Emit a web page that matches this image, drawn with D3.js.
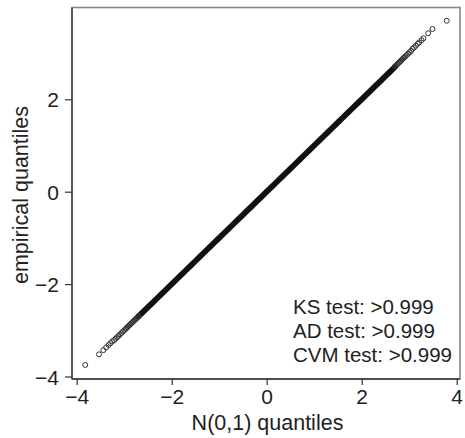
<!DOCTYPE html>
<html>
<head>
<meta charset="utf-8">
<script src="https://cdn.jsdelivr.net/npm/d3@7"></script>
<style>
  body { margin: 0; background: #fff; }
  text { font-family: "Liberation Sans", Arial, sans-serif; fill: #222; }
</style>
</head>
<body>
<div id="chart"></div>
<script>
// theoretical N(0,1) quantiles vs empirical quantiles (individually visible points)
var theoQ = [-3.82, -3.53, -3.44, -3.38, -3.33, -3.29, -3.25, -3.21, -3.18, -3.15, -3.12, -3.09,
  -3.06, -3.03, -3.00, -2.97, -2.95, -2.93, -2.91, -2.89, -2.87, -2.85, -2.83, -2.81, -2.79,
  -2.77, -2.75, -2.73, -2.71, -2.69,
  2.70, 2.72, 2.74, 2.76, 2.78, 2.80, 2.82, 2.84, 2.86, 2.88, 2.90, 2.92, 2.95, 2.98, 3.01,
  3.04, 3.07, 3.10, 3.14, 3.18, 3.21, 3.26, 3.30, 3.40, 3.49, 3.79];
var empQ = [-3.75, -3.52, -3.43, -3.37, -3.32, -3.28, -3.24, -3.21, -3.18, -3.15, -3.12, -3.09,
  -3.06, -3.03, -3.00, -2.97, -2.95, -2.93, -2.91, -2.89, -2.87, -2.85, -2.83, -2.81, -2.79,
  -2.77, -2.75, -2.73, -2.71, -2.69,
  2.71, 2.73, 2.75, 2.77, 2.79, 2.81, 2.83, 2.85, 2.87, 2.89, 2.91, 2.93, 2.96, 2.99, 3.02,
  3.05, 3.09, 3.12, 3.16, 3.20, 3.23, 3.28, 3.32, 3.43, 3.52, 3.70];
// dense middle where points merge into a solid band (empirical = theoretical)
var coreQ = [-2.7, -2.6, -2.5, -2.4, -2.3, -2.2, -2.1, -2.0, -1.9, -1.8, -1.7, -1.6, -1.5, -1.4,
  -1.3, -1.2, -1.1, -1.0, -0.9, -0.8, -0.7, -0.6, -0.5, -0.4, -0.3, -0.2, -0.1, 0.0, 0.1, 0.2,
  0.3, 0.4, 0.5, 0.6, 0.7, 0.8, 0.9, 1.0, 1.1, 1.2, 1.3, 1.4, 1.5, 1.6, 1.7, 1.8, 1.9, 2.0, 2.1,
  2.2, 2.3, 2.4, 2.5, 2.6, 2.7];
var xTicks = [-4, -2, 0, 2, 4];
var yTicks = [-4, -2, 0, 2];
var testLines = ["KS test: >0.999", "AD test: >0.999", "CVM test: >0.999"];

var svgWidth = 465;
var svgHeight = 438;
var box = { left: 72, right: 460, top: 7.5, bottom: 379 };

var svg = d3.select("#chart")
    .append("svg")
    .attr("width", svgWidth)
    .attr("height", svgHeight);

var x = d3.scaleLinear().domain([-4, 4]).range([76.7, 456.7]);
var y = d3.scaleLinear().domain([-4, 4]).range([376.5, 6.9]);

// frame
svg.append("rect")
    .attr("x", box.left)
    .attr("y", box.top)
    .attr("width", box.right - box.left)
    .attr("height", box.bottom - box.top)
    .attr("fill", "none")
    .attr("stroke", "#888")
    .attr("stroke-width", 1.6);

// axes
var xAxis = d3.axisBottom(x).tickValues(xTicks).tickSize(6).tickPadding(4)
    .tickFormat(d => d < 0 ? "\u2212" + Math.abs(d) : d);
var yAxis = d3.axisLeft(y).tickValues(yTicks).tickSize(7).tickPadding(6)
    .tickFormat(d => d < 0 ? "\u2212" + Math.abs(d) : d);

var gx = svg.append("g")
    .attr("transform", `translate(0, ${box.bottom})`)
    .call(xAxis);
gx.select(".domain").attr("d", `M${box.left},0H${box.right}`);

var gy = svg.append("g")
    .attr("transform", `translate(${box.left}, 0)`)
    .call(yAxis);
gy.select(".domain").attr("d", `M0,${box.top}V${box.bottom}`);

[gx, gy].forEach(function (g) {
    g.select(".domain").attr("stroke", "#333").attr("stroke-width", 1.3);
    g.selectAll(".tick line").attr("stroke", "#333").attr("stroke-width", 1.2);
    g.selectAll(".tick text")
        .attr("fill", "#222")
        .style("font-size", "21px")
        .style("font-family", "'Liberation Sans', Arial, sans-serif");
});
gx.selectAll(".tick text").attr("dy", "0.71em");
gy.selectAll(".tick text").attr("dy", "0.36em");

// dense band
var line = d3.line().x(d => x(d)).y(d => y(d));
svg.append("path")
    .datum(coreQ)
    .attr("d", line)
    .attr("fill", "none")
    .attr("stroke", "#111")
    .attr("stroke-width", 5.8)
    .attr("stroke-linecap", "round");

// individual points
svg.append("g").selectAll("circle")
    .data(theoQ)
    .enter()
    .append("circle")
    .attr("cx", d => x(d))
    .attr("cy", (d, i) => y(empQ[i]))
    .attr("r", 2.5)
    .attr("fill", "none")
    .attr("stroke", "#333")
    .attr("stroke-width", 1);

// test results
svg.append("g").selectAll("text")
    .data(testLines)
    .enter()
    .append("text")
    .attr("x", 293)
    .attr("y", (d, i) => 313.5 + i * 24)
    .style("font-size", "20.5px")
    .text(d => d);

// axis titles
svg.append("text")
    .attr("x", 267.5)
    .attr("y", 430)
    .attr("text-anchor", "middle")
    .style("font-size", "21.5px")
    .text("N(0,1) quantiles");

svg.append("text")
    .attr("transform", "translate(27.5, 195) rotate(-90)")
    .attr("text-anchor", "middle")
    .style("font-size", "21.5px")
    .text("empirical quantiles");
</script>
</body>
</html>
